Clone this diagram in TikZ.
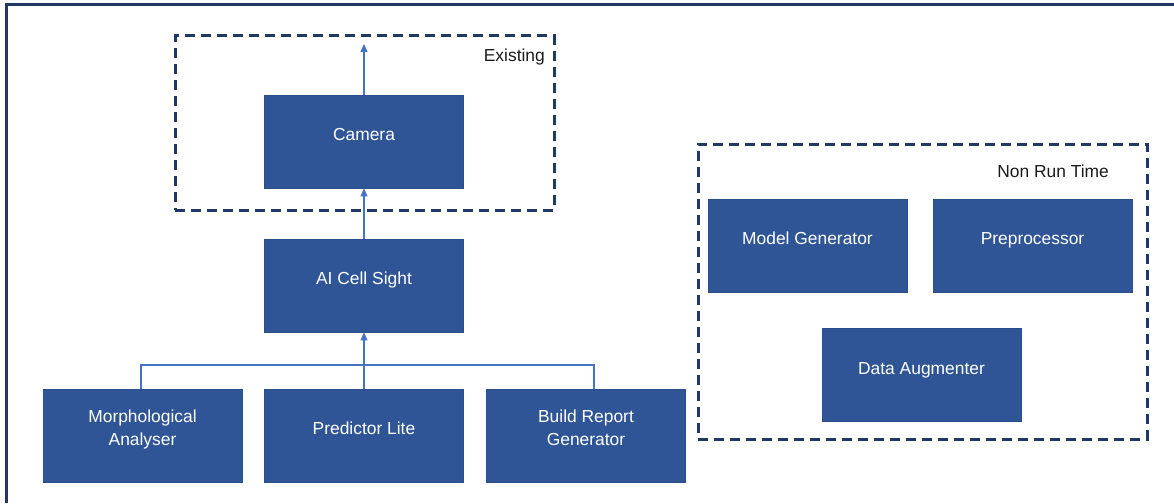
\documentclass[tikz,border=0pt]{standalone}
\usepackage{fontspec}
\setmainfont{Liberation Sans}
\usetikzlibrary{arrows.meta}
\definecolor{boxblue}{HTML}{2F5597}
\definecolor{boxedge}{HTML}{2B4E8C}
\definecolor{navy}{HTML}{1F3864}
\definecolor{linkblue}{HTML}{4472C4}
\definecolor{txt}{HTML}{1A1A1A}
\tikzset{
  box/.style={rectangle, draw=boxedge, line width=0.8pt, fill=boxblue, minimum width=199pt, minimum height=93pt, inner sep=0pt},
  boxtextbase/.style={text=white, align=center, text height=12.5pt, text depth=3.5pt, inner sep=0pt, font=\fontsize{17.4}{23}\selectfont},
  boxtext/.style={boxtextbase, yshift=5.5pt},
  boxtexttwo/.style={boxtextbase, yshift=-5.5pt},
  group/.style={draw=navy, line width=3pt, dash pattern=on 10pt off 6pt},
  grouplabel/.style={text=txt, font=\fontsize{17.4}{20}\selectfont, inner sep=0pt},
  link/.style={draw=linkblue, line width=1.2pt},
  arrowlink/.style={link, -{Triangle[length=8pt,width=7pt]}},
}
\begin{document}
\begin{tikzpicture}[x=1pt,y=-1pt]
\useasboundingbox (0,0) rectangle (1174,503);
% outer frame (top and left edges visible)
\draw[navy, line width=3pt] (6,503) -- (6,5) -- (1174,5);
% group boxes
\node[group, rectangle, minimum width=379pt, minimum height=174pt, inner sep=0pt] (existing) at (364.5,123) {};
\node[grouplabel, anchor=east] (existinglbl) at (545,57.5) {Existing};
\node[group, rectangle, minimum width=449pt, minimum height=295pt, inner sep=0pt] (nonrun) at (922.5,291.5) {};
\node[grouplabel, anchor=east] (nonrunlbl) at (1109,171) {Non Run Time};
% boxes
\node[box, label={[boxtext]center:Camera}] (cam) at (364,141.5) {};
\node[box, label={[boxtext]center:AI Cell Sight}] (ai) at (364,285.5) {};
\node[box, label={[boxtexttwo]center:Morphological\\Analyser}] (morph) at (142.5,435.5) {};
\node[box, label={[boxtext]center:Predictor Lite}] (pred) at (364,435.5) {};
\node[box, label={[boxtexttwo]center:Build Report\\Generator}] (build) at (586,435.5) {};
\node[box, label={[boxtext]center:Model Generator}] (model) at (807.5,245.5) {};
\node[box, label={[boxtext]center:Preprocessor}] (prep) at (1032.5,245.5) {};
\node[box, label={[boxtext]center:Data Augmenter}] (aug) at (921.5,375) {};
% connectors
\coordinate (camout) at (364,44);
\coordinate (bus) at (364,365);
\draw[arrowlink] (cam.north) -- (camout);
\draw[arrowlink] (ai.north) -- (cam.south);
\draw[arrowlink] (pred.north) -- (ai.south);
\draw[link] (morph.north -| 141,0) |- (bus) -| (build.north -| 594,0);
\end{tikzpicture}
\end{document}
